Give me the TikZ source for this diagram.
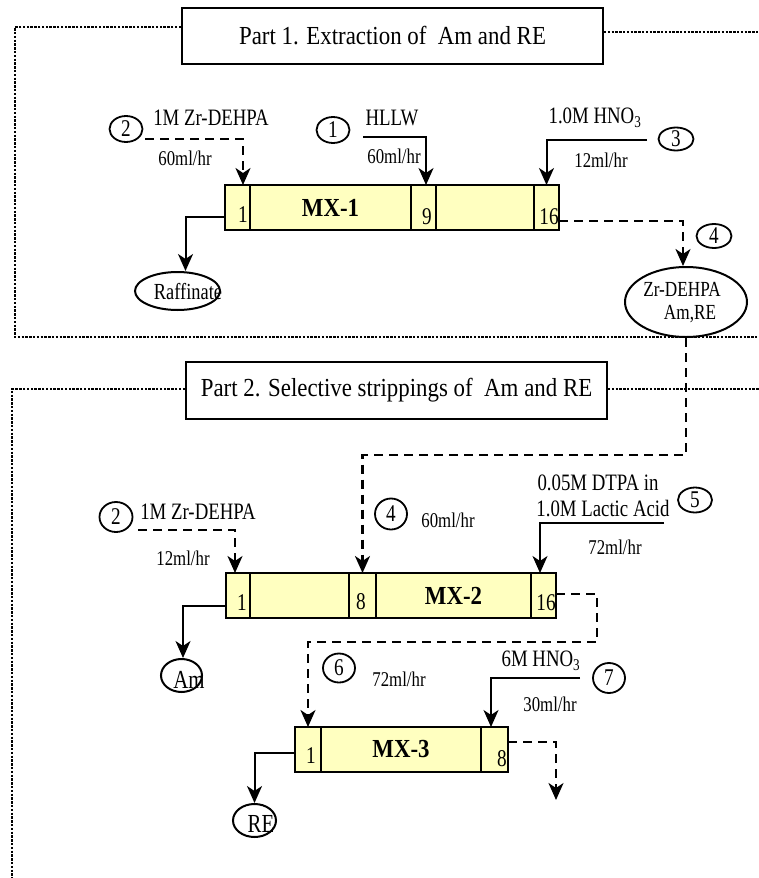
\documentclass[tikz,border=0pt]{standalone}
\usepackage{fontspec}
\setmainfont{Liberation Serif}
\newfontfamily\narrowfont{Liberation Serif}[FakeStretch=0.8]
\newfontfamily\headfont{Liberation Serif}[FakeStretch=0.88]
\usetikzlibrary{arrows.meta,shapes.geometric}
\definecolor{cellfill}{HTML}{FFFFC0}

\begin{document}
\begin{tikzpicture}[x=1pt,y=-1pt,
  >={Stealth[length=17pt,width=15pt,inset=5pt]},
  cell/.style={draw,line width=2pt,fill=cellfill,minimum height=45pt,inner sep=0pt,outer sep=0pt,
    font=\headfont\bfseries\fontsize{26}{28}\selectfont},
  title/.style={draw,line width=2pt,minimum width=421pt,minimum height=56pt,inner sep=0pt,
    font=\headfont\fontsize{26}{28}\selectfont},
  frame/.style={line width=2.6pt,dash pattern=on 2.4pt off 1.4pt},
  flow/.style={line width=2pt},
  dflow/.style={line width=2.4pt,dash pattern=on 9pt off 6pt},
  num/.style={draw,ellipse,line width=1.8pt,minimum width=33pt,minimum height=26pt,inner sep=0pt,
    font=\narrowfont\fontsize{24}{24}\selectfont},
  stream/.style={draw,ellipse,line width=2pt,inner sep=0pt},
  lbl/.style={inner sep=0pt,font=\narrowfont\fontsize{23.5}{26}\selectfont},
  rate/.style={inner sep=0pt,font=\narrowfont\fontsize{21}{23}\selectfont},
  stage/.style={inner sep=0pt,font=\narrowfont\fontsize{24}{26}\selectfont},
  sname/.style={inner sep=0pt,font=\narrowfont\fontsize{23}{25}\selectfont}]

\useasboundingbox (0,0) rectangle (759,878);

% ---------- Part 1: extraction ----------
\node[title] (p1) at (392.5,36) {Part 1. Extraction of \ Am and RE};
\coordinate (f1tl) at (15,27);
\coordinate (f1bl) at (15,337);
\coordinate (f1br) at (759,337);
\coordinate (f1tr) at (759,32);
\draw[frame] (f1tl -| p1.west) -- (f1tl) -- (f1bl) -- (f1br);
\draw[frame] (f1tr -| p1.east) -- (f1tr);

% mixer-settler MX-1
\node[cell,minimum width=25pt]  (m1a) at (237.5,207.5) {};
\node[cell,minimum width=161pt] (m1b) at (330.5,207.5) {MX-1};
\node[cell,minimum width=25pt]  (m1c) at (423.5,207.5) {};
\node[cell,minimum width=98pt]  (m1d) at (485,207.5) {};
\node[cell,minimum width=25pt]  (m1e) at (546.5,207.5) {};
\node[stage] (n1a) at (243,215) {1};
\node[stage] (n1c) at (427,217) {9};
\node[stage] (n1e) at (549,217) {16};

% feeds of MX-1
\node[num] (c2a) at (126,129) {2};
\node[lbl] (t2a) at (211,118) {1M Zr-DEHPA};
\node[rate] (r2a) at (185,158) {60ml/hr};
\coordinate (s2a) at (145,139);
\draw[dflow,->] (s2a) -| ([xshift=5.5pt]m1a.north);

\node[num] (c1) at (333,130) {1};
\node[lbl] (t1) at (392,118) {HLLW};
\node[rate] (r1) at (394,156) {60ml/hr};
\coordinate (s1) at (363,137);
\draw[flow,->] (s1) -| ([xshift=2.5pt]m1c.north);

\node[num,minimum width=35pt,minimum height=23pt] (c3) at (676,139) {3};
\node[lbl] (t3) at (595,118) {1.0M HNO\textsubscript{3}};
\node[rate] (r3) at (601,160) {12ml/hr};
\coordinate (s3) at (647,140);
\draw[flow,->] (s3) -| (m1e.north);

% products of MX-1
\node[stream,minimum width=85pt,minimum height=38pt] (raff) at (177.5,291) {};
\node[sname] (traff) at (188,292) {Raffinate};
\draw[flow,->] ([yshift=-9.5pt]m1a.west) -| ([xshift=8pt]raff.north);

\node[stream,minimum width=122pt,minimum height=70pt] (zr) at (686,302) {};
\node[sname,font=\narrowfont\fontsize{21.5}{23}\selectfont] (tzr1) at (682,289) {Zr-DEHPA};
\node[sname,font=\narrowfont\fontsize{21.5}{23}\selectfont] (tzr2) at (690,314) {Am,RE};
\node[num,minimum width=35pt,minimum height=24pt] (c4a) at (714,236) {4};
\draw[dflow,->] ([yshift=-13.5pt]m1e.east) -| ([xshift=-3pt]zr.north);

% ---------- Part 2: selective strippings ----------
\node[title,minimum height=57pt] (p2) at (396.5,390.5) {Part 2. Selective strippings of \ Am and RE};
\coordinate (f2tl) at (12,389);
\coordinate (f2bl) at (12,878);
\coordinate (f2tr) at (759,389);
\draw[frame] (f2tl -| p2.west) -- (f2tl) -- (f2bl);
\draw[frame] (f2tr -| p2.east) -- (f2tr);

% mixer-settler MX-2
\node[cell,minimum width=24pt]  (m2a) at (238,595.5) {};
\node[cell,minimum width=99pt]  (m2b) at (299.5,595.5) {};
\node[cell,minimum width=27pt]  (m2c) at (362.5,595.5) {};
\node[cell,minimum width=155pt] (m2d) at (453.5,595.5) {MX-2};
\node[cell,minimum width=25pt]  (m2e) at (543.5,595.5) {};
\node[stage] (n2a) at (242,603) {1};
\node[stage] (n2c) at (361,602) {8};
\node[stage] (n2e) at (546,603) {16};

% loaded solvent into MX-2
\coordinate (k4) at (0,455);
\draw[dflow,->] (zr.south) -- (zr.south |- k4) -| (m2c.north);
\node[num,minimum width=32pt,minimum height=31pt] (c4b) at (391,514) {4};
\node[rate] (r4b) at (448,520) {60ml/hr};

\node[num,minimum width=33pt,minimum height=30pt] (c2b) at (116,517) {2};
\node[lbl] (t2b) at (198,512) {1M Zr-DEHPA};
\node[rate] (r2b) at (183,558) {12ml/hr};
\coordinate (s2b) at (138,530);
\draw[dflow,->] (s2b) -| ([xshift=-3pt]m2a.north);

\node[lbl] (t5a) at (598,483) {0.05M DTPA in};
\node[lbl] (t5b) at (603,509) {1.0M Lactic Acid};
\node[num,minimum width=34pt,minimum height=25pt] (c5) at (695,500) {5};
\node[rate] (r5) at (615,547) {72ml/hr};
\coordinate (s5) at (664,523);
\draw[flow,->] (s5) -| ([xshift=-3.5pt]m2e.north);

% Am product
\node[stream,minimum width=41pt,minimum height=33pt] (am) at (181.5,675.5) {};
\node[sname,font=\narrowfont\fontsize{26}{28}\selectfont] (tam) at (189,680) {Am};
\draw[flow,->] ([yshift=-10.5pt]m2a.west) -| ([xshift=1.5pt]am.north);

% mixer-settler MX-3
\node[cell,minimum width=26pt]  (m3a) at (308,749.5) {};
\node[cell,minimum width=160pt] (m3b) at (401,749.5) {MX-3};
\node[cell,minimum width=27pt]  (m3c) at (494.5,749.5) {};
\node[stage] (n3a) at (311,756) {1};
\node[stage] (n3c) at (502,759) {8};

% MX-2 solvent to MX-3
\coordinate (k6) at (597,642);
\draw[dflow,->] ([yshift=1.5pt]m2e.east) -| (k6) -| (m3a.north);
\node[num,minimum width=32pt,minimum height=29pt] (c6) at (339,668) {6};
\node[rate] (r6) at (399,679) {72ml/hr};

\node[lbl] (t7) at (541,661) {6M HNO\textsubscript{3}};
\node[num,minimum width=32pt,minimum height=30pt] (c7) at (609,678) {7};
\node[rate] (r7) at (550,704) {30ml/hr};
\coordinate (s7) at (580,678);
\draw[flow,->] (s7) -| ([xshift=-3.5pt]m3c.north);

% MX-3 outlets
\coordinate (e8) at (556,800);
\draw[dflow,->] ([yshift=7.5pt]m3c.east) -| (e8);

\node[stream,minimum width=43pt,minimum height=33pt] (re) at (254.5,820.5) {};
\node[sname,font=\narrowfont\fontsize{26}{28}\selectfont] (tre) at (261,824) {RE};
\draw[flow,->] ([yshift=-3.5pt]m3a.west) -| (re.north);

\end{tikzpicture}
\end{document}
